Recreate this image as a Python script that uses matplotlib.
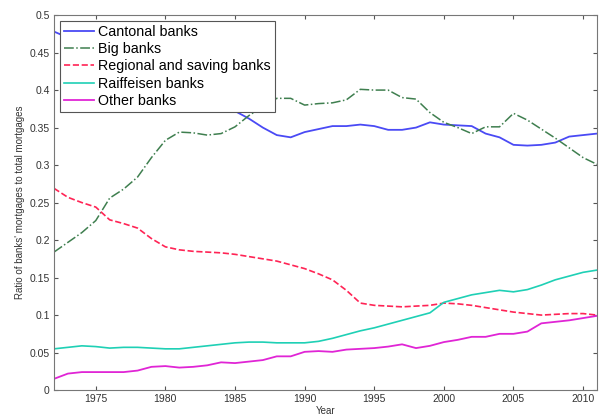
import matplotlib
matplotlib.use('Agg')
from matplotlib import pyplot as plt
import numpy as np

plt.rcParams['font.family'] = ['Liberation Sans', 'DejaVu Sans']

years = list(range(1972, 2012))

cantonal = [0.478, 0.470, 0.462, 0.455, 0.447, 0.440, 0.432, 0.424, 0.416, 0.408,
            0.399, 0.390, 0.381, 0.372, 0.362, 0.350, 0.340, 0.337, 0.344, 0.348,
            0.352, 0.352, 0.354, 0.352, 0.347, 0.347, 0.350, 0.357, 0.354, 0.353,
            0.352, 0.342, 0.337, 0.327, 0.326, 0.327, 0.330, 0.338, 0.340, 0.342]
big = [0.184, 0.197, 0.210, 0.226, 0.256, 0.268, 0.284, 0.310, 0.333, 0.344,
       0.343, 0.340, 0.342, 0.351, 0.366, 0.378, 0.389, 0.389, 0.380, 0.382,
       0.383, 0.387, 0.401, 0.400, 0.400, 0.390, 0.388, 0.370, 0.357, 0.350,
       0.342, 0.351, 0.351, 0.369, 0.360, 0.348, 0.336, 0.323, 0.310, 0.301]
regional = [0.269, 0.257, 0.250, 0.244, 0.227, 0.222, 0.216, 0.202, 0.191, 0.187,
            0.185, 0.184, 0.183, 0.181, 0.178, 0.175, 0.172, 0.167, 0.162, 0.155,
            0.147, 0.133, 0.116, 0.113, 0.112, 0.111, 0.112, 0.113, 0.116, 0.115,
            0.113, 0.110, 0.107, 0.104, 0.102, 0.100, 0.101, 0.102, 0.102, 0.100]
raiffeisen = [0.055, 0.057, 0.059, 0.058, 0.056, 0.057, 0.057, 0.056, 0.055, 0.055,
              0.057, 0.059, 0.061, 0.063, 0.064, 0.064, 0.063, 0.063, 0.063, 0.065,
              0.069, 0.074, 0.079, 0.083, 0.088, 0.093, 0.098, 0.103, 0.117, 0.122,
              0.127, 0.130, 0.133, 0.131, 0.134, 0.140, 0.147, 0.152, 0.157, 0.160]
other = [0.015, 0.022, 0.024, 0.024, 0.024, 0.024, 0.026, 0.031, 0.032, 0.030,
         0.031, 0.033, 0.037, 0.036, 0.038, 0.040, 0.045, 0.045, 0.051, 0.052,
         0.051, 0.054, 0.055, 0.056, 0.058, 0.061, 0.056, 0.059, 0.064, 0.067,
         0.071, 0.071, 0.075, 0.075, 0.078, 0.089, 0.091, 0.093, 0.096, 0.099]

fig = plt.figure(figsize=(6.02, 4.19), dpi=100)
ax = fig.add_axes([0.0897, 0.069, 0.902, 0.895])

ax.plot(years, cantonal, color='#4a4af5', lw=1.3, ls='-', label='Cantonal banks')
ax.plot(years, big, color='#3f7f4f', lw=1.1, ls='-.', label='Big banks')
ax.plot(years, regional, color='#ff2455', lw=1.2, ls='--', label='Regional and saving banks')
ax.plot(years, raiffeisen, color='#1fd0b5', lw=1.2, ls='-', label='Raiffeisen banks')
ax.plot(years, other, color='#e025d5', lw=1.3, ls='-', label='Other banks')

ax.set_xlim(1972, 2011)
ax.set_ylim(0, 0.5)
ax.set_xticks(np.arange(1975, 2011, 5))
ax.set_yticks(np.arange(0, 0.51, 0.05))
ax.set_yticklabels(['0', '0.05', '0.1', '0.15', '0.2', '0.25', '0.3', '0.35', '0.4', '0.45', '0.5'])
ax.tick_params(direction='in', top=True, right=True, labelsize=7.5, length=3,
               color='#555555', labelcolor='#333333', pad=3)
for s in ax.spines.values():
    s.set_color('#777777')
    s.set_linewidth(0.8)

ax.set_xlabel('Year', fontsize=7, color='#333333', labelpad=1)
ax.set_ylabel("Ratio of banks' mortgages to total mortgages", fontsize=7, color='#333333', labelpad=3)

# opaque legend box sits over the early part of the cantonal line
leg = ax.legend(loc='upper left', fontsize=10.3, frameon=True, fancybox=False,
                framealpha=1, handlelength=2.1, handletextpad=0.3, labelspacing=0.22,
                borderpad=0.3, borderaxespad=0.4)
leg.get_frame().set_edgecolor('#555555')
leg.get_frame().set_linewidth(0.8)

fig.savefig('out.png', dpi=100)
